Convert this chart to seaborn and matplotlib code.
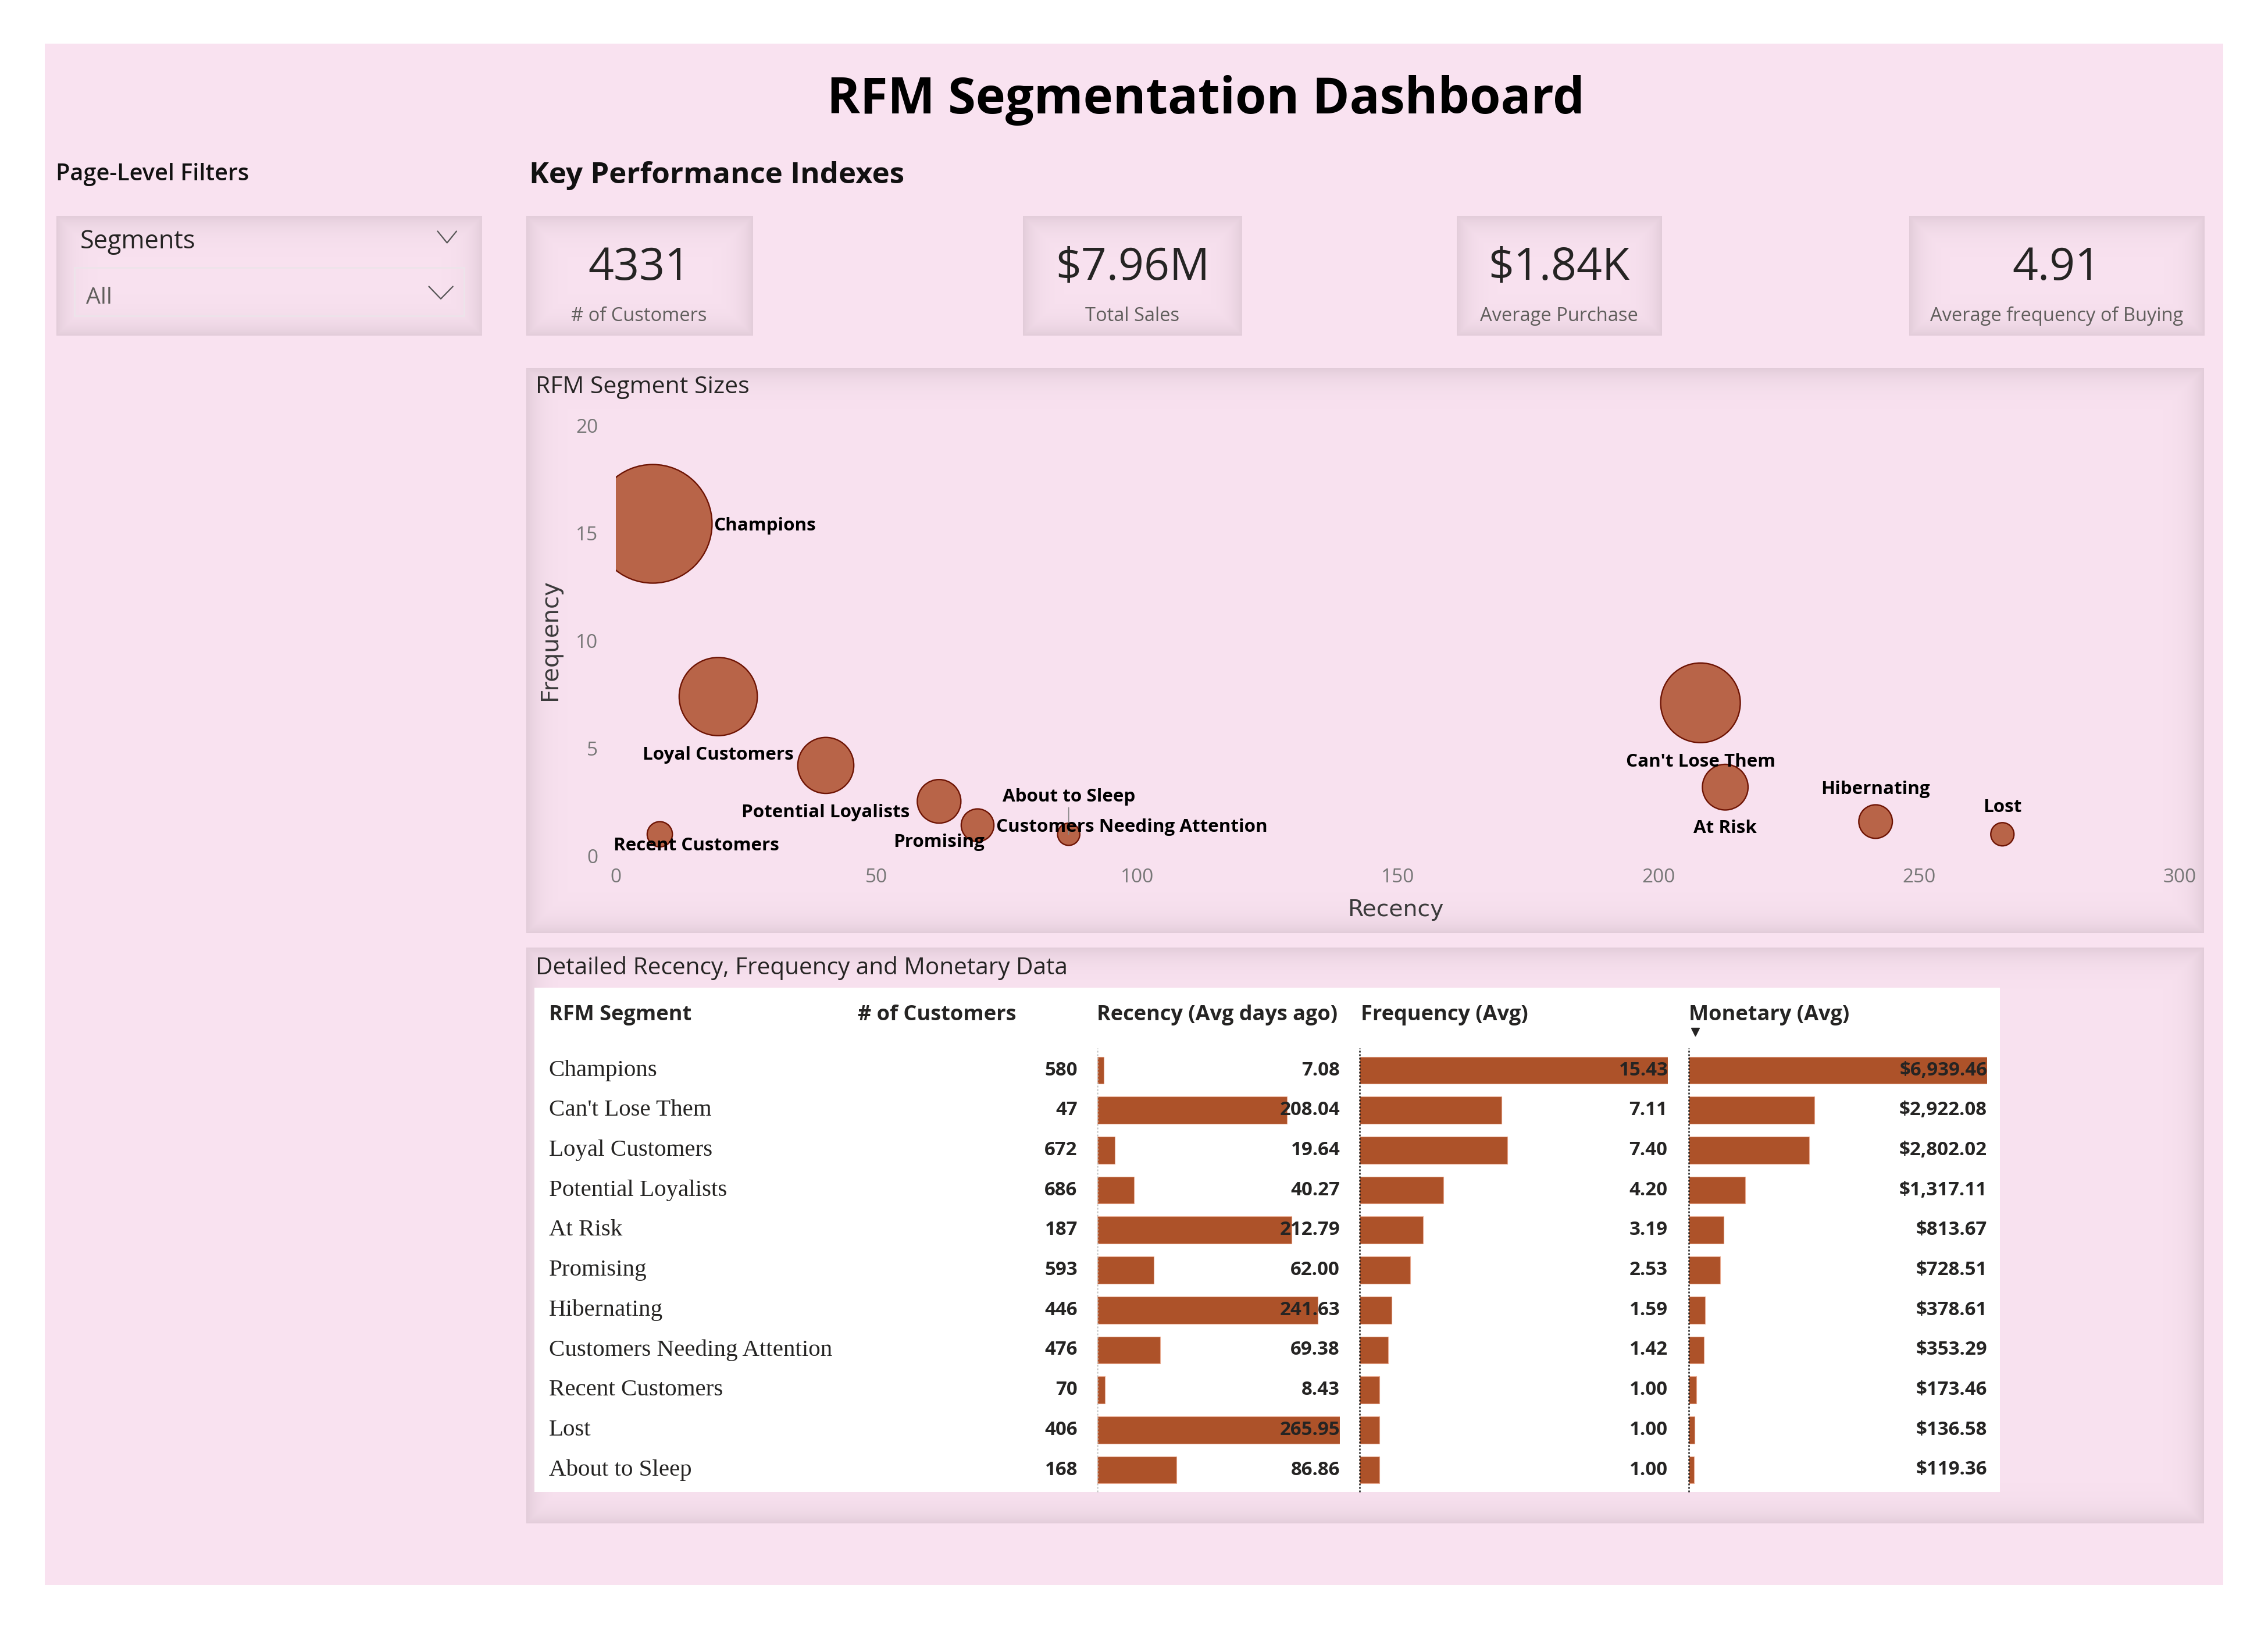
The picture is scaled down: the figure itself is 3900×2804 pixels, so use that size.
import numpy as np
import pandas as pd
import matplotlib
matplotlib.use("Agg")
import matplotlib.pyplot as plt
import matplotlib.transforms as mtransforms
from matplotlib.patches import Rectangle
import seaborn as sns

# ---------------- data ----------------
segments = ["Champions", "Can't Lose Them", "Loyal Customers", "Potential Loyalists",
            "At Risk", "Promising", "Hibernating", "Customers Needing Attention",
            "Recent Customers", "Lost", "About to Sleep"]
customers = [580, 47, 672, 686, 187, 593, 446, 476, 70, 406, 168]
recency = [7.08, 208.04, 19.64, 40.27, 212.79, 62.00, 241.63, 69.38, 8.43, 265.95, 86.86]
frequency = [15.43, 7.11, 7.40, 4.20, 3.19, 2.53, 1.59, 1.42, 1.00, 1.00, 1.00]
monetary = [6939.46, 2922.08, 2802.02, 1317.11, 813.67, 728.51, 378.61, 353.29, 173.46, 136.58, 119.36]

kpi_values = ["4331", "$7.96M", "$1.84K", "4.91"]
kpi_labels = ["# of Customers", "Total Sales", "Average Purchase", "Average frequency of Buying"]
x_ticks = [0, 50, 100, 150, 200, 250, 300]
y_ticks = [0, 5, 10, 15, 20]
table_headers = ["RFM Segment", "# of Customers", "Recency (Avg days ago)", "Frequency (Avg)", "Monetary (Avg)"]

df = pd.DataFrame({"Segment": segments, "Customers": customers, "Recency": recency,
                   "Frequency": frequency, "Monetary": monetary})

# ---------------- style ----------------
sns.set_theme(style="white")
plt.rcParams["font.family"] = ["Open Sans", "DejaVu Sans"]

PINK = "#F9E2F0"
BAR = "#AD5229"
BUB_FILL = "#B86448"
BUB_EDGE = "#6E1404"
TXT = "#252423"
GRAY = "#605E5C"

W, H = 1560.0, 1121.6   # layout units (1 unit = 2.5 output px)
fig = plt.figure(figsize=(39, 28.04), dpi=100, facecolor="white")
renderer = fig.canvas.get_renderer()

bg = fig.add_axes([0, 0, 1, 1], zorder=0)
bg.set_xlim(0, W)
bg.set_ylim(H, 0)
bg.axis("off")


def fit(t, w):
    """scale font so that text width equals w layout units"""
    cur = t.get_window_extent(renderer).width
    t.set_fontsize(t.get_fontsize() * (w * 2.5) / cur)
    return t.get_fontsize()


def txt(x, y, s, w=None, size=20, **kw):
    t = bg.text(x, y, s, fontsize=size, **kw)
    if w is not None:
        fit(t, w)
    return t


def panel(x0, y0, x1, y1, wid=9.0):
    nx, ny = int((x1 - x0) * 2.5), int((y1 - y0) * 2.5)
    xs = (np.arange(nx) + 0.5) / 2.5
    ys = (np.arange(ny) + 0.5) / 2.5
    dx = np.minimum(xs, (x1 - x0) - xs)
    dy = np.minimum(ys, (y1 - y0) - ys)
    d = np.minimum(dx[None, :], dy[:, None])
    t = np.exp(-d / wid)
    center = np.array([249, 226, 240]) / 255
    edge = np.array([226, 204, 217]) / 255
    img = center + (edge - center) * t[..., None]
    bg.imshow(img, extent=(x0, x1, y1, y0), aspect="auto", interpolation="bilinear", zorder=1)


# page background
bg.add_patch(Rectangle((30.8, 30), 1529 - 30.8, 1090 - 30, facecolor=PINK, edgecolor="none", zorder=0))

# title
txt(829.5, 78, "RFM Segmentation Dashboard", w=521, ha="center", va="baseline",
    weight="bold", color="black", zorder=5)

# left filter
txt(38.6, 124, "Page-Level Filters", w=132.5, ha="left", va="baseline", weight="semibold",
    color="#111111", zorder=5)
panel(38.6, 148.6, 331.4, 231)
txt(55.3, 171, "Segments", w=79, ha="left", va="baseline", color=TXT, zorder=5)
bg.add_patch(Rectangle((51, 184), 268, 33, facecolor="none", edgecolor="#EDE4EA", lw=2, zorder=4))
txt(59, 209, "All", w=18, ha="left", va="baseline", color=GRAY, zorder=5)
bg.plot([301, 307.5, 314], [159, 167, 159], color="#555555", lw=1.6, zorder=5)
bg.plot([295, 303.2, 311.5], [197, 205.5, 197], color="#555555", lw=1.6, zorder=5)

# KPI section
txt(364, 126, "Key Performance Indexes", w=258, ha="left", va="baseline", weight="bold",
    color="#111111", zorder=5)
cards = [(361.8, 517.5), (703.6, 854.4), (1002, 1143), (1313, 1516)]
for (x0, x1) in cards:
    panel(x0, 148.6, x1, 231)
num_t, lab_t = [], []
for (x0, x1), v, lab in zip(cards, kpi_values, kpi_labels):
    cx = (x0 + x1) / 2
    num_t.append(txt(cx, 192.5, v, ha="center", va="baseline", color=TXT,
                     weight="medium", zorder=5))
    lab_t.append(txt(cx, 220.7, lab, ha="center", va="baseline", color=GRAY, zorder=5))
nsize = fit(num_t[0], 70)
for t in num_t:
    t.set_fontsize(nsize)
lsize = fit(lab_t[3], 174)
for t in lab_t:
    t.set_fontsize(lsize)

# ---------------- bubble chart panel ----------------
panel(362, 253.6, 1516, 641.7)
txt(368.4, 270.5, "RFM Segment Sizes", w=147, ha="left", va="baseline", color=TXT, zorder=5)

L, R, T, B = 423.6, 1499.4, 292.6, 588.5
ax = fig.add_axes([L / W, 1 - B / H, (R - L) / W, (B - T) / H], zorder=2)
ax.set_facecolor("none")


def radius_pt(m):
    return (6.6 + 1.145 * np.sqrt(m)) * 0.72


size_map = {m: (2 * radius_pt(m)) ** 2 for m in monetary}
sns.scatterplot(data=df, x="Recency", y="Frequency", size="Monetary", sizes=size_map,
                color=BUB_FILL, edgecolor=BUB_EDGE, linewidth=1.7, alpha=1,
                legend=False, ax=ax, zorder=3)
ax.set_xlim(0, 300)
ax.set_ylim(0, 20)
ax.set_xticks(x_ticks)
ax.set_yticks(y_ticks)
ax.set_xlabel("")
ax.set_ylabel("")
for s in ax.spines.values():
    s.set_visible(False)
ax.grid(False)
ax.tick_params(axis="both", length=0, labelcolor="#777777", labelsize=24)
ax.tick_params(axis="x", pad=15)
ax.tick_params(axis="y", pad=22)

ft = txt(378.4, 440, "Frequency", size=26, rotation=90, ha="center", va="center",
         color="#3A3A3A", family="DejaVu Sans", zorder=5)
hcur = ft.get_window_extent(renderer).height
ft.set_fontsize(ft.get_fontsize() * 83 * 2.5 / hcur)
txt(960, 625.5, "Recency", w=66, ha="center", va="center", color="#3A3A3A",
    family="DejaVu Sans", zorder=5)

# bubble labels: offsets (layout units, +y downward) from bubble centre
label_off = {
    "Champions": (42, 1.3, "left"),
    "Loyal Customers": (0, 40, "center"),
    "Potential Loyalists": (0, 32.3, "center"),
    "Promising": (0, 28, "center"),
    "Customers Needing Attention": (13, 1.4, "left"),
    "About to Sleep": (0, -25.7, "center"),
    "Recent Customers": (25.2, 7.7, "center"),
    "Can't Lose Them": (0, 40.5, "center"),
    "At Risk": (0, 28.4, "center"),
    "Hibernating": (0, -22, "center"),
    "Lost": (0, -18.5, "center"),
}
bl = []
for seg, xv, yv in zip(segments, recency, frequency):
    dx, dy, ha = label_off[seg]
    a = ax.annotate(seg, (xv, yv), xytext=(dx * 1.8, -dy * 1.8), textcoords="offset points",
                    ha=ha, va="center", fontsize=20, weight="bold", color="black",
                    zorder=6, annotation_clip=False)
    bl.append(a)
bsize = fit(bl[0], 70)
for a in bl:
    a.set_fontsize(bsize)
# leader line for About to Sleep
ats = segments.index("About to Sleep")
ax.annotate("", xy=(recency[ats], frequency[ats]), xytext=(0, 18.3 * 1.8),
            textcoords="offset points",
            arrowprops=dict(arrowstyle="-", color="#888888", lw=1.2, shrinkA=0, shrinkB=0),
            zorder=5)

# ---------------- table panel ----------------
panel(362, 651.8, 1516, 1047.6)
txt(368.4, 670, "Detailed Recency, Frequency and Monetary Data", w=365, ha="left",
    va="baseline", color=TXT, zorder=5)
bg.add_patch(Rectangle((367.6, 679.2), 1375.4 - 367.6, 1026 - 679.2, facecolor="white",
                       edgecolor="none", zorder=2))

row_top, row_bot = 736 - 13.74, 1010.8 + 13.74
cols = [("Recency", 754.6, 921.6, "#C8C8C8", lambda v: f"{v:.2f}"),
        ("Frequency", 935.2, 1147.0, "#1A1A1A", lambda v: f"{v:.2f}"),
        ("Monetary", 1161.6, 1366.8, "#1A1A1A", lambda v: f"${v:,.2f}")]
bar_axes = []
for col, x0, x1, lc, fmt in cols:
    bax = fig.add_axes([x0 / W, 1 - row_bot / H, (x1 - x0) / W, (row_bot - row_top) / H], zorder=3)
    bax.set_facecolor("none")
    sns.barplot(data=df, x=col, y="Segment", orient="y", color=BAR, saturation=1,
                width=0.68, edgecolor="#E8A88E", linewidth=0.8, ax=bax, zorder=2)
    bax.set_xlim(0, max(df[col]))
    bax.set_ylim(10.5, -0.5)
    bax.axis("off")
    bax.axvline(0, ymin=-0.005, ymax=1.005, color=lc, ls=(0, (1.2, 1.2)), lw=1.8,
                clip_on=False, zorder=4)
    bar_axes.append((bax, col, x1, fmt))

tr = mtransforms.blended_transform_factory(bg.transData, bar_axes[0][0].transData)
name_texts = []
num_texts = []
for i, seg in enumerate(segments):
    t = fig.text(377.5, i, seg, transform=tr, ha="left", va="center", fontsize=28,
                 family="Liberation Serif", color=TXT, zorder=6)
    name_texts.append(t)
    n = fig.text(741, i, f"{customers[i]}", transform=tr, ha="right", va="center",
                 fontsize=22, weight="bold", color=TXT, zorder=6)
    num_texts.append(n)
    for bax, col, x1, fmt in bar_axes:
        v = df[col].iloc[i]
        n2 = fig.text(x1, i, fmt(v), transform=tr, ha="right", va="center", fontsize=22,
                      weight="bold", color=TXT, zorder=6)
        num_texts.append(n2)

# fit sizes
ref = name_texts[segments.index("Customers Needing Attention")]
cur = ref.get_window_extent(renderer).width
ns = ref.get_fontsize() * 195 * 2.5 / cur
for t in name_texts:
    t.set_fontsize(ns)
ref = [t for t in num_texts if t.get_text() == "$6,939.46"][0]
cur = ref.get_window_extent(renderer).width
nm = ref.get_fontsize() * 60.3 * 2.5 / cur
for t in num_texts:
    t.set_fontsize(nm)

hx = [377.5, 590, 754.6, 936, 1161.6]
hts = []
for h, x in zip(table_headers, hx):
    hts.append(txt(x, 698, h, ha="left", va="center", weight="bold", color=TXT, size=22, zorder=6))
hs = fit(hts[2], 165.4)
for t in hts:
    t.set_fontsize(hs)
bg.plot([1165.8], [709.5], marker="v", markersize=10, color="#252423", zorder=6)

fig.savefig("out.png", dpi=100, facecolor="white")
